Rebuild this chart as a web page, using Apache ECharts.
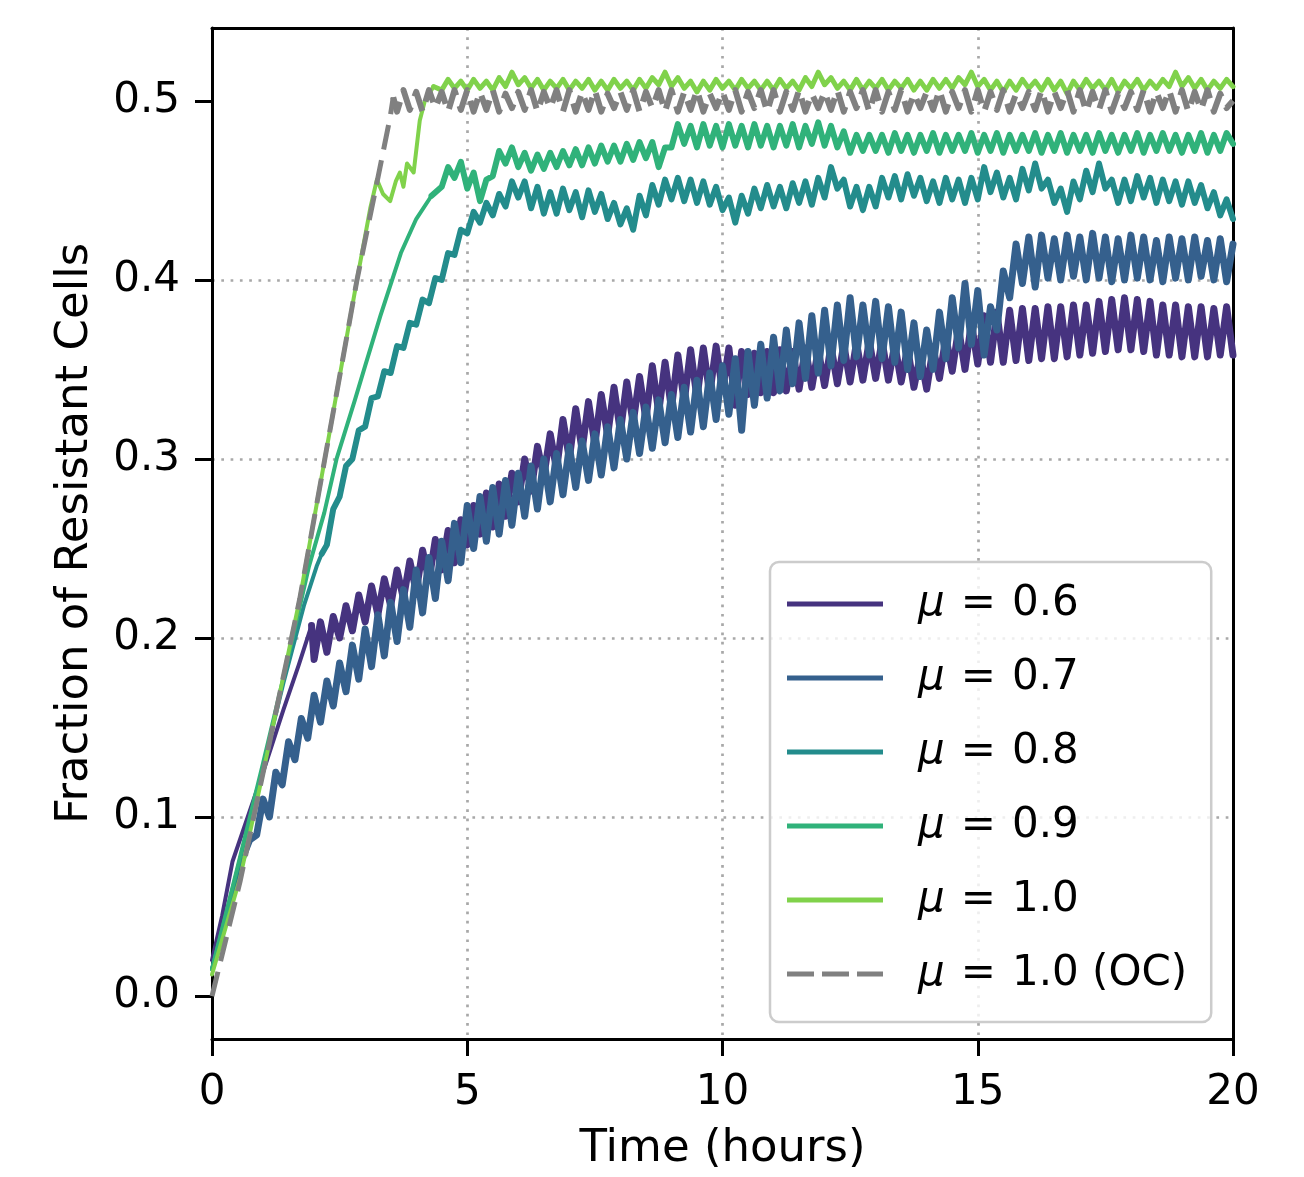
<!DOCTYPE html>
<html>
<head>
<meta charset="utf-8">
<script src="https://cdn.jsdelivr.net/npm/echarts@6/dist/echarts.min.js"></script>
<style>
  html, body { margin: 0; padding: 0; background: #ffffff; }
  #chart { width: 1304px; height: 1177px; }
</style>
</head>
<body>
<div id="chart"></div>
<script>
// ---------------- data ----------------
const seriesNames = ['μ = 0.6', 'μ = 0.7', 'μ = 0.8', 'μ = 0.9', 'μ = 1.0', 'μ = 1.0 (OC)'];
const xTicks = [0, 5, 10, 15, 20];
const yTicks = [0, 0.1, 0.2, 0.3, 0.4, 0.5];

// hours between a trough and the next peak of the oscillating part
const STEP = 0.125;

// mu = 0.6 : smooth rise, then oscillating part (alternating trough / peak)
const mu06Rise = [[0, 0.02], [0.2, 0.045], [0.4, 0.075], [0.7, 0.1], [1.0, 0.125], [1.4, 0.16], [1.7, 0.185], [1.95, 0.207]];
const mu06Start = 2.0;
const mu06Osc = [
  0.188, 0.209, 0.192, 0.212, 0.200, 0.218, 0.204, 0.224,
  0.209, 0.229, 0.213, 0.233, 0.218, 0.238, 0.222, 0.243,
  0.226, 0.249, 0.232, 0.255, 0.238, 0.260, 0.242, 0.266,
  0.252, 0.274, 0.258, 0.281, 0.262, 0.286, 0.268, 0.292,
  0.276, 0.300, 0.282, 0.307, 0.290, 0.314, 0.294, 0.322,
  0.300, 0.328, 0.305, 0.332, 0.308, 0.336, 0.313, 0.340,
  0.315, 0.343, 0.320, 0.346, 0.322, 0.352, 0.326, 0.354,
  0.328, 0.358, 0.332, 0.361, 0.334, 0.362, 0.336, 0.363,
  0.338, 0.362, 0.330, 0.360, 0.336, 0.359, 0.337, 0.360,
  0.337, 0.361, 0.338, 0.360, 0.339, 0.362, 0.340, 0.361,
  0.341, 0.363, 0.342, 0.364, 0.343, 0.365, 0.344, 0.366,
  0.345, 0.366, 0.344, 0.364, 0.343, 0.362, 0.340, 0.358,
  0.339, 0.362, 0.345, 0.368, 0.349, 0.373, 0.350, 0.376,
  0.353, 0.380, 0.354, 0.382, 0.354, 0.383, 0.355, 0.384,
  0.355, 0.384, 0.356, 0.385, 0.356, 0.385, 0.357, 0.386,
  0.358, 0.386, 0.359, 0.388, 0.360, 0.389, 0.361, 0.390,
  0.361, 0.389, 0.360, 0.388, 0.358, 0.386, 0.358, 0.386,
  0.357, 0.385, 0.357, 0.385, 0.357, 0.384, 0.358, 0.385,
  0.358
];

// mu = 0.7
const mu07Rise = [[0, 0.015], [0.3, 0.048], [0.6, 0.075], [0.78, 0.088]];
const mu07Start = 0.875;
const mu07Osc = [
  0.090,
  0.110, 0.100, 0.125, 0.118, 0.142, 0.132, 0.155, 0.144,
  0.168, 0.153, 0.176, 0.162, 0.186, 0.170, 0.196, 0.177,
  0.205, 0.184, 0.213, 0.190, 0.220, 0.198, 0.227, 0.206,
  0.238, 0.214, 0.245, 0.222, 0.254, 0.232, 0.264, 0.242,
  0.274, 0.250, 0.279, 0.254, 0.284, 0.258, 0.288, 0.263,
  0.292, 0.268, 0.296, 0.272, 0.300, 0.276, 0.303, 0.280,
  0.307, 0.284, 0.310, 0.288, 0.314, 0.291, 0.318, 0.295,
  0.322, 0.300, 0.326, 0.303, 0.329, 0.306, 0.333, 0.309,
  0.336, 0.312, 0.340, 0.315, 0.344, 0.318, 0.348, 0.322,
  0.352, 0.325, 0.356, 0.316, 0.360, 0.330, 0.364, 0.334,
  0.368, 0.338, 0.372, 0.342, 0.376, 0.345, 0.380, 0.348,
  0.383, 0.352, 0.386, 0.355, 0.390, 0.357, 0.386, 0.358,
  0.388, 0.356, 0.385, 0.354, 0.382, 0.350, 0.376, 0.346,
  0.372, 0.350, 0.382, 0.356, 0.390, 0.362, 0.398, 0.364,
  0.394, 0.358, 0.385, 0.372, 0.405, 0.390, 0.420, 0.398,
  0.424, 0.396, 0.425, 0.401, 0.423, 0.400, 0.425, 0.402,
  0.424, 0.400, 0.426, 0.401, 0.424, 0.399, 0.423, 0.400,
  0.425, 0.401, 0.424, 0.400, 0.422, 0.399, 0.424, 0.401,
  0.423, 0.400, 0.424, 0.402, 0.422, 0.400, 0.423, 0.399,
  0.420
];

// mu = 0.8
const mu08Rise = [[0, 0.015], [0.3, 0.048], [0.6, 0.082], [1.0, 0.128], [1.4, 0.175], [1.8, 0.218], [2.05, 0.24], [2.15, 0.247]];
const mu08Start = 2.25;
const mu08Osc = [
  0.252, 0.272, 0.279, 0.296, 0.300, 0.316,
  0.318, 0.334, 0.335, 0.349, 0.348, 0.363, 0.362, 0.376,
  0.375, 0.389, 0.387, 0.401, 0.400, 0.415, 0.414, 0.428,
  0.426, 0.438, 0.432, 0.443, 0.436, 0.448, 0.441, 0.455,
  0.446, 0.455, 0.440, 0.452, 0.437, 0.449, 0.437, 0.451,
  0.439, 0.449, 0.435, 0.450, 0.438, 0.448, 0.434, 0.443,
  0.431, 0.440, 0.428, 0.447, 0.436, 0.453, 0.442, 0.456,
  0.445, 0.457, 0.444, 0.456, 0.443, 0.455, 0.442, 0.452,
  0.439, 0.446, 0.432, 0.447, 0.437, 0.451, 0.440, 0.453,
  0.441, 0.452, 0.440, 0.454, 0.443, 0.455, 0.442, 0.457,
  0.446, 0.463, 0.451, 0.456, 0.441, 0.452, 0.439, 0.452,
  0.441, 0.457, 0.446, 0.458, 0.445, 0.459, 0.447, 0.457,
  0.444, 0.455, 0.443, 0.457, 0.445, 0.456, 0.443, 0.457,
  0.445, 0.463, 0.449, 0.460, 0.446, 0.457, 0.445, 0.462,
  0.450, 0.465, 0.451, 0.456, 0.443, 0.451, 0.438, 0.455,
  0.445, 0.461, 0.449, 0.465, 0.451, 0.456, 0.443, 0.456,
  0.444, 0.458, 0.446, 0.457, 0.443, 0.456, 0.444, 0.455,
  0.442, 0.455, 0.443, 0.453, 0.440, 0.449, 0.436, 0.445,
  0.434
];

// mu = 0.9
const mu09Rise = [[0, 0.015], [0.5, 0.072], [1.0, 0.13], [1.5, 0.19], [1.9, 0.24], [2.2, 0.27], [2.44, 0.3], [2.8, 0.333], [3.0, 0.352], [3.3, 0.38], [3.7, 0.415], [4.0, 0.434], [4.3, 0.447]];
const mu09Start = 4.5;
const mu09Osc = [
  0.452, 0.463, 0.457, 0.466,
  0.451, 0.460, 0.444, 0.456, 0.458, 0.472, 0.465, 0.474,
  0.463, 0.471, 0.461, 0.470, 0.462, 0.471, 0.463, 0.472,
  0.464, 0.473, 0.464, 0.474, 0.465, 0.475, 0.466, 0.475,
  0.466, 0.476, 0.467, 0.477, 0.468, 0.477, 0.463, 0.474,
  0.474, 0.487, 0.476, 0.486, 0.474, 0.487, 0.475, 0.486,
  0.474, 0.487, 0.475, 0.486, 0.474, 0.487, 0.475, 0.486,
  0.474, 0.486, 0.475, 0.487, 0.474, 0.486, 0.476, 0.488,
  0.475, 0.486, 0.474, 0.483, 0.471, 0.481, 0.472, 0.481,
  0.472, 0.481, 0.471, 0.482, 0.472, 0.481, 0.471, 0.481,
  0.472, 0.482, 0.471, 0.481, 0.472, 0.481, 0.472, 0.482,
  0.471, 0.481, 0.472, 0.482, 0.471, 0.481, 0.472, 0.481,
  0.472, 0.482, 0.471, 0.481, 0.472, 0.482, 0.471, 0.481,
  0.472, 0.481, 0.471, 0.482, 0.472, 0.481, 0.471, 0.481,
  0.472, 0.482, 0.471, 0.481, 0.472, 0.482, 0.472, 0.481,
  0.471, 0.481, 0.472, 0.482, 0.471, 0.481, 0.472, 0.482,
  0.476
];

// mu = 1.0
const mu10Rise = [[0, 0.012], [0.55, 0.066], [1.07, 0.134], [1.72, 0.222], [2.21, 0.3], [2.84, 0.4], [3.1, 0.44], [3.23, 0.456], [3.35, 0.448], [3.49, 0.444], [3.6, 0.455], [3.68, 0.46], [3.75, 0.452], [3.82, 0.465], [3.95, 0.46], [4.07, 0.489], [4.17, 0.5], [4.34, 0.508]];
const mu10Start = 4.5;
const mu10Osc = [
  0.506, 0.512, 0.507, 0.511,
  0.506, 0.512, 0.507, 0.511, 0.506, 0.513, 0.508, 0.516,
  0.509, 0.513, 0.507, 0.512, 0.506, 0.511, 0.507, 0.512,
  0.506, 0.511, 0.507, 0.512, 0.506, 0.511, 0.506, 0.512,
  0.507, 0.511, 0.506, 0.512, 0.507, 0.513, 0.509, 0.516,
  0.508, 0.513, 0.507, 0.511, 0.505, 0.511, 0.506, 0.512,
  0.507, 0.511, 0.506, 0.512, 0.507, 0.511, 0.506, 0.511,
  0.506, 0.512, 0.507, 0.511, 0.506, 0.513, 0.508, 0.516,
  0.509, 0.513, 0.507, 0.511, 0.506, 0.512, 0.506, 0.511,
  0.507, 0.512, 0.506, 0.511, 0.507, 0.512, 0.506, 0.511,
  0.506, 0.512, 0.507, 0.512, 0.507, 0.513, 0.509, 0.516,
  0.508, 0.512, 0.506, 0.511, 0.505, 0.511, 0.506, 0.512,
  0.507, 0.511, 0.506, 0.512, 0.506, 0.511, 0.504, 0.511,
  0.506, 0.512, 0.507, 0.511, 0.506, 0.512, 0.505, 0.511,
  0.507, 0.512, 0.506, 0.511, 0.507, 0.512, 0.508, 0.516,
  0.508, 0.513, 0.507, 0.512, 0.506, 0.511, 0.507, 0.512,
  0.508
];

// mu = 1.0 (OC)
const muOCRise = [[0, 0], [0.55, 0.064], [1.07, 0.134], [1.72, 0.222], [2.21, 0.3], [2.84, 0.4], [3.2, 0.45], [3.49, 0.491], [3.55, 0.502]];
const muOCStart = 3.625;
const muOCOsc = [
  0.494, 0.506, 0.495,
  0.505, 0.494, 0.506, 0.496, 0.505, 0.494, 0.506, 0.495,
  0.506, 0.494, 0.505, 0.495, 0.506, 0.494, 0.504, 0.496,
  0.505, 0.495, 0.506, 0.494, 0.505, 0.496, 0.506, 0.494,
  0.506, 0.494, 0.505, 0.495, 0.506, 0.494, 0.504, 0.496,
  0.505, 0.495, 0.506, 0.494, 0.505, 0.496, 0.506, 0.494,
  0.506, 0.494, 0.505, 0.495, 0.506, 0.494, 0.504, 0.496,
  0.505, 0.495, 0.506, 0.494, 0.505, 0.496, 0.506, 0.494,
  0.506, 0.494, 0.505, 0.495, 0.506, 0.494, 0.504, 0.496,
  0.505, 0.495, 0.506, 0.494, 0.505, 0.496, 0.506, 0.494,
  0.506, 0.494, 0.505, 0.495, 0.506, 0.494, 0.504, 0.496,
  0.505, 0.495, 0.506, 0.494, 0.505, 0.496, 0.506, 0.494,
  0.506, 0.494, 0.505, 0.495, 0.506, 0.494, 0.504, 0.496,
  0.505, 0.495, 0.506, 0.494, 0.505, 0.496, 0.506, 0.494,
  0.506, 0.494, 0.505, 0.495, 0.506, 0.494, 0.504, 0.496,
  0.505, 0.495, 0.506, 0.494, 0.505, 0.496, 0.506, 0.494,
  0.506, 0.494, 0.505, 0.495, 0.506, 0.494, 0.504, 0.496,
  0.500
];

// ---------------- styling ----------------
const colors = ['#46337f', '#35608d', '#238c8c', '#30b27a', '#80d24b', '#808080'];
const riseWidths = [4, 4, 4, 4, 4, 5];
const oscWidths = [7, 7, 6, 6, 5, 6];
const FONT = 'DejaVu Sans';

const rises = [mu06Rise, mu07Rise, mu08Rise, mu09Rise, mu10Rise, muOCRise];
const starts = [mu06Start, mu07Start, mu08Start, mu09Start, mu10Start, muOCStart];
const oscs = [mu06Osc, mu07Osc, mu08Osc, mu09Osc, mu10Osc, muOCOsc];

function oscPoints(rise, start, osc) {
  const last = rise[rise.length - 1];
  const pts = [[last[0], last[1]]];
  osc.forEach((v, i) => pts.push([start + i * STEP, v]));
  return pts;
}

function lineStyleFor(i, w) {
  return i === 5
    ? { color: colors[i], width: w, type: [25, 11], join: 'round' }
    : { color: colors[i], width: w, cap: 'round', join: 'round' };
}

const series = [];
seriesNames.forEach((name, i) => {
  series.push({
    name: name, type: 'line',
    data: rises[i].map(p => [p[0], p[1]]),
    showSymbol: false, symbol: 'none', clip: true, animation: false,
    color: colors[i], lineStyle: lineStyleFor(i, riseWidths[i]), z: 2 + i
  });
  series.push({
    name: name, type: 'line',
    data: oscPoints(rises[i], starts[i], oscs[i]),
    showSymbol: false, symbol: 'none', clip: true, animation: false,
    color: colors[i], lineStyle: lineStyleFor(i, oscWidths[i]), z: 2 + i
  });
});

const chart = echarts.init(document.getElementById('chart'), null, { renderer: 'canvas' });

const gridLine = { color: '#a8a8a8', width: 2.7, type: [2.7, 6.6] };

chart.setOption({
  backgroundColor: '#ffffff',
  animation: false,
  textStyle: { fontFamily: FONT },
  grid: {
    left: 212, top: 28, width: 1021, height: 1013,
    show: false
  },
  xAxis: [{
    type: 'value',
    min: 0, max: 20, interval: 5,
    name: 'Time (hours)',
    nameLocation: 'middle',
    nameGap: 88,
    nameTextStyle: { fontFamily: FONT, fontSize: 45, color: '#000' },
    axisLine: { show: true, onZero: false, lineStyle: { color: '#000', width: 3 } },
    axisTick: { show: true, length: 17, lineStyle: { color: '#000', width: 3 } },
    axisLabel: { fontFamily: FONT, fontSize: 42, color: '#000', margin: 33 },
    splitLine: { show: true, showMinLine: false, showMaxLine: false, lineStyle: gridLine }
  }, {
    type: 'value', position: 'top',
    min: 0, max: 20, interval: 5,
    axisLine: { show: true, onZero: false, lineStyle: { color: '#000', width: 3 } },
    axisTick: { show: false }, axisLabel: { show: false }, splitLine: { show: false }
  }],
  yAxis: [{
    type: 'value',
    min: -0.024, max: 0.5407,
    name: 'Fraction of Resistant Cells',
    nameLocation: 'middle',
    nameGap: 114,
    nameTextStyle: { fontFamily: FONT, fontSize: 45, color: '#000' },
    axisLine: { show: true, onZero: false, lineStyle: { color: '#000', width: 3 } },
    axisTick: { show: true, length: 17, customValues: yTicks, lineStyle: { color: '#000', width: 3 } },
    axisLabel: {
      fontFamily: FONT, fontSize: 42, color: '#000', margin: 32,
      customValues: yTicks,
      formatter: v => Number(v).toFixed(1)
    },
    splitLine: { show: true, showMinLine: false, showMaxLine: false, lineStyle: gridLine }
  }, {
    type: 'value', position: 'right',
    min: -0.024, max: 0.5407,
    axisLine: { show: true, onZero: false, lineStyle: { color: '#000', width: 3 } },
    axisTick: { show: false }, axisLabel: { show: false }, splitLine: { show: false }
  }],
  legend: {
    show: true,
    orient: 'vertical',
    left: 770, top: 562,
    padding: [17, 24, 23, 17],
    itemWidth: 96, itemHeight: 5,
    itemGap: 24,
    backgroundColor: 'rgba(255,255,255,0.8)',
    borderColor: '#cccccc', borderWidth: 2.5, borderRadius: 9,
    data: seriesNames.map((n, i) => ({
      name: n,
      icon: i === 5
        ? 'path://M0,0h27v5h-27z M35,0h27v5h-27z M70,0h26v5h-26z'
        : 'rect'
    })),
    formatter: name => '{m|μ}{e|=}' + name.slice(4),
    textStyle: {
      fontFamily: FONT, fontSize: 42, color: '#000', lineHeight: 50, padding: [0, 0, 0, 30],
      rich: {
        m: { fontFamily: FONT, fontStyle: 'italic', fontSize: 42, lineHeight: 50, color: '#000' },
        e: { fontFamily: FONT, fontSize: 42, lineHeight: 50, color: '#000', padding: [0, 16, 0, 16] }
      }
    }
  },
  series: series
});
</script>
</body>
</html>
